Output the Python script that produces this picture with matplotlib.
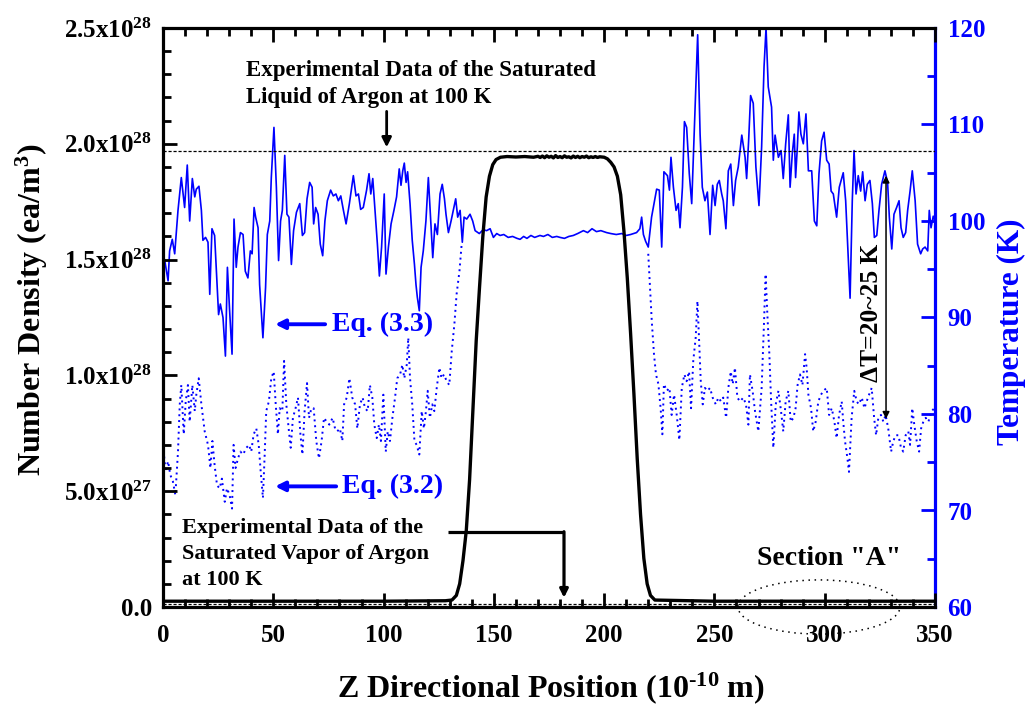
import matplotlib
matplotlib.use("Agg")
import matplotlib.pyplot as plt
from matplotlib.patches import Ellipse
from matplotlib.ticker import MultipleLocator, FixedLocator, FixedFormatter
import numpy as np

plt.rcParams['font.family'] = ['Liberation Serif', 'DejaVu Serif']
plt.rcParams['font.weight'] = 'bold'
plt.rcParams['mathtext.fontset'] = 'custom'
plt.rcParams['mathtext.rm'] = 'Liberation Serif:bold'
plt.rcParams['mathtext.bf'] = 'Liberation Serif:bold'
plt.rcParams['mathtext.it'] = 'Liberation Serif:bold:italic'

# ---- number density profile (x1e28 ea/m^3) ----
z_density = [0, 50, 100, 128, 131, 133, 134.5, 136, 137.5, 139, 140.5, 142, 143.5,
             145, 146.5, 148, 149.5, 151, 153, 156, 160, 164, 168, 170, 171, 172,
             173, 174, 175, 176, 177, 178, 179, 180, 181, 182, 183, 184, 185, 186,
             187, 188, 189, 190, 191, 192, 193, 194, 195, 196, 197, 198, 200, 201.5,
             203, 204.5, 206, 207.5, 209, 210.5, 212, 213.5, 215, 216.5, 218, 219.5,
             221, 223, 250, 300, 350]
density = [0.025, 0.025, 0.025, 0.027, 0.03, 0.05, 0.1, 0.2, 0.33, 0.55, 0.85, 1.15, 1.38,
           1.6, 1.77, 1.86, 1.91, 1.932, 1.942, 1.945, 1.943, 1.945, 1.942, 1.946, 1.941, 1.947,
           1.94, 1.948, 1.942, 1.946, 1.939, 1.949, 1.941, 1.945, 1.94, 1.948, 1.942, 1.944,
           1.939, 1.947, 1.941, 1.946, 1.94, 1.945, 1.942, 1.947, 1.94, 1.944, 1.941, 1.945,
           1.941, 1.944, 1.942, 1.935, 1.92, 1.9, 1.86, 1.78, 1.62, 1.42, 1.18, 0.92, 0.64,
           0.40, 0.21, 0.10, 0.05, 0.03, 0.025, 0.025, 0.025]

# experimental saturated densities of argon at 100 K (x1e28 ea/m^3)
liquid_exp = 1.97
vapor_exp = 0.015

# ---- temperature from Eq. (3.3) (K) ----
z_eq33 = [0, 0.8, 2.3, 3.0, 4.2, 5.3, 6.8, 8.3, 9.8, 11.0, 12.1, 13.3, 14.4, 15.1, 16.3,
          17.4, 18.1, 19.3, 20.4, 21.2, 22.2, 23.4, 24.2, 25.2, 26.0, 27.2, 28.3, 29.2,
          30.2, 31.3, 32.2, 33.2, 34.0, 35.1, 36.3, 37.3, 38.5, 39.6, 40.4, 41.3, 42.0,
          43.1, 43.8, 45.3, 46.5, 47.3, 48.4, 49.1, 50.3, 51.4, 52.4, 53.3, 54.1, 55.2,
          56.2, 57.1, 58.2, 59.2, 60.5, 62.0, 63.2, 64.2, 65.3, 66.5, 67.6, 68.3, 69.2,
          70.3, 71.3, 72.4, 73.4, 74.5, 76.0, 77.2, 78.4, 79.5, 80.6, 81.8, 83.0, 84.5,
          86.3, 87.5, 88.6, 89.6, 90.8, 92.3, 93.4, 94.2, 95.1, 96.1, 97.2, 98.1, 99.1,
          100.3, 101.1, 102.2, 103.4, 104.7, 105.9, 107.1, 107.9, 108.7, 109.4, 110.2,
          110.9, 112.0, 113.0, 114.0, 114.7, 115.3, 116.2, 117.0, 118.0, 119.2, 120.3,
          121.4, 122.3, 123.3, 124.4, 125.6, 126.6, 127.6, 128.3, 129.4, 130.6, 131.6,
          132.7, 133.6, 134.7, 135.7, 136.5, 137.7, 139.2, 140.4, 141.5, 143.4, 145.2,
          146.7, 148.3, 149.8, 151.3, 152.8, 154.5, 156.5, 158.5, 160.5, 161.9, 163.5,
          165.0, 166.8, 168.5, 170.9, 172.5, 174.5, 176.5, 178.5, 180.0, 182.0, 184.0,
          186.0, 188.0, 190.6, 192.5, 194.5, 196.5, 198.5, 201.1, 203.0, 205.5, 208.0,
          210.0, 212.0, 214.7, 216.2, 217.0, 217.8, 218.8, 220.0, 221.5, 223.8, 225.0,
          226.1, 227.1, 228.7, 229.6, 230.3, 231.4, 232.6, 233.6, 234.4, 235.5, 236.4,
          237.4, 238.6, 239.7, 241.2, 242.4, 243.5, 244.5, 245.7, 246.8, 248.0, 249.2,
          250.3, 251.3, 252.2, 253.3, 254.0, 255.2, 256.3, 257.4, 258.6, 259.6, 260.8,
          262.4, 263.9, 264.6, 265.5, 266.4, 267.6, 268.8, 270.2, 271.4, 272.5, 273.4,
          274.4, 275.9, 276.7, 277.5, 279.0, 280.2, 281.2, 282.3, 283.5, 284.3, 285.3,
          286.2, 286.8, 287.6, 288.3, 289.2, 290.3, 291.5, 292.6, 294.1, 295.3, 296.4,
          297.4, 298.6, 299.7, 300.9, 302.0, 302.9, 303.9, 305.4, 306.6, 308.4, 309.5,
          310.4, 311.5, 312.5, 313.3, 314.2, 315.2, 316.3, 317.2, 318.3, 319.3, 320.5,
          321.6, 322.5, 323.6, 324.6, 325.8, 327.3, 328.5, 329.3, 330.4, 331.4, 332.6,
          333.7, 334.6, 335.6, 336.7, 337.6, 338.7, 339.7, 341.0, 342.1, 343.5, 344.4,
          345.5, 346.7, 347.4, 348.2, 349.2, 350.0]
temp_eq33 = [96.5, 95.9, 93.8, 96.9, 98.1, 96.6, 101.1, 104.5, 101.4, 105.8, 100.0, 104.4,
             102.5, 103.3, 103.6, 101.1, 98.0, 98.3, 97.8, 92.4, 99.2, 98.5, 94.8, 90.3,
             91.4, 90.0, 86.0, 95.2, 90.7, 86.2, 100.2, 95.2, 97.3, 98.8, 98.6, 94.8, 94.1,
             96.9, 96.6, 101.4, 100.4, 99.3, 93.4, 87.9, 93.1, 98.6, 100.0, 104.5, 109.7,
             103.5, 95.9, 100.0, 101.1, 106.8, 100.7, 100.4, 95.5, 99.0, 100.9, 101.8, 98.5,
             98.8, 102.3, 104.0, 103.5, 99.7, 101.4, 100.7, 97.6, 96.4, 100.0, 102.1, 103.2,
             102.6, 102.8, 102.1, 102.6, 101.1, 99.7, 101.8, 104.7, 102.6, 102.8, 101.2,
             101.4, 103.2, 104.9, 102.8, 104.4, 101.2, 97.6, 94.3, 97.3, 102.8, 94.5, 97.3,
             99.7, 101.1, 102.5, 105.4, 103.7, 105.2, 106.0, 104.0, 105.1, 101.8, 98.0, 95.5,
             93.4, 92.1, 90.7, 95.2, 96.9, 100.0, 104.5, 100.0, 96.2, 99.7, 98.6, 102.8,
             103.8, 102.3, 100.7, 98.8, 100.0, 101.1, 102.3, 100.4, 101.1, 97.8, 100.4, 100.2,
             100.7, 100.0, 99.0, 98.7, 99.1, 99.0, 99.2, 98.3, 98.7, 98.5, 98.6, 98.3, 98.4,
             98.2, 98.1, 98.4, 98.2, 98.5, 98.3, 98.5, 98.4, 98.6, 98.3, 98.4, 98.3, 98.2,
             98.4, 98.5, 98.7, 99.0, 98.8, 99.2, 98.9, 99.0, 98.8, 98.7, 98.6, 98.7, 98.5,
             98.6, 98.8, 99.2, 100.4, 98.6, 97.9, 97.3, 100.4, 103.3, 103.2, 97.3, 105.1,
             104.7, 103.2, 106.6, 103.5, 101.1, 101.8, 99.3, 103.5, 110.3, 109.7, 104.9,
             101.8, 111.5, 119.3, 109.0, 103.5, 102.1, 103.0, 98.6, 103.7, 101.6, 103.8,
             104.2, 102.8, 102.1, 99.2, 105.2, 105.9, 101.6, 104.2, 105.6, 108.9, 106.6,
             104.4, 108.3, 113.0, 112.2, 105.6, 101.6, 107.7, 116.0, 120.0, 113.9, 111.8,
             106.3, 108.9, 106.6, 107.3, 104.4, 108.0, 111.0, 103.5, 107.0, 109.0, 104.5,
             107.7, 111.3, 109.0, 108.0, 111.1, 105.2, 105.2, 100.0, 99.5, 104.9, 108.3,
             109.2, 106.3, 105.9, 103.1, 102.8, 100.4, 103.5, 105.0, 102.1, 97.6, 92.0, 102.1,
             107.3, 102.8, 104.7, 103.1, 105.1, 102.1, 103.8, 104.2, 101.8, 98.3, 98.5, 101.1,
             103.8, 105.2, 104.0, 100.4, 97.1, 100.7, 101.4, 102.1, 99.3, 98.3, 98.8, 101.1,
             103.1, 105.2, 102.1, 97.6, 96.6, 97.1, 97.3, 96.9, 101.1, 99.3, 100.5, 100.0]

# ---- temperature from Eq. (3.2) (K), vapor regions ----
z_eq32_left = [0, 1.2, 2.3, 3.3, 4.5, 5.6, 6.8, 7.6, 8.3, 9.4, 10.3, 11.3, 12.1, 13.3, 14.4,
               15.1, 16.2, 17.4, 18.9, 20.4, 21.5, 22.4, 23.4, 24.5, 25.7, 26.7, 28.0, 29.0,
               30.2, 31.3, 32.0, 32.9, 34.0, 35.1, 36.3, 37.8, 39.0, 40.0, 41.1, 42.3, 43.4,
               44.3, 45.3, 46.1, 46.8, 48.0, 49.1, 50.2, 51.1, 52.1, 52.9, 54.1, 54.9, 55.9,
               57.1, 57.9, 58.9, 60.1, 61.2, 62.3, 63.2, 64.2, 65.3, 66.2, 67.3, 68.3, 69.5,
               70.7, 71.9, 73.0, 74.2, 75.4, 76.9, 78.0, 79.0, 80.2, 81.3, 82.1, 83.3, 84.5,
               85.8, 87.1, 88.1, 89.3, 90.5, 91.6, 92.8, 93.8, 94.9, 95.8, 96.9, 97.9, 98.8,
               99.9, 101.0, 101.9, 102.9, 104.0, 105.2, 106.2, 107.5, 108.5, 109.4, 110.5,
               111.2, 112.0, 113.0, 114.0, 115.0, 116.2, 117.3, 118.3, 119.2, 120.0, 121.0,
               122.1, 123.0, 124.1, 125.3, 126.3, 127.4, 128.6, 129.8, 130.9, 132.1, 133.1,
               134.4, 135.4]
temp_eq32_left = [76.8, 74.0, 75.1, 73.7, 73.0, 71.6, 76.1, 81.0, 83.0, 77.9, 81.3, 83.0,
                  79.2, 83.0, 80.3, 82.0, 83.7, 81.0, 78.2, 76.8, 74.4, 77.2, 74.7, 72.6,
                  72.3, 73.3, 70.9, 72.3, 71.6, 70.2, 76.8, 74.4, 75.4, 76.1, 75.8, 76.5,
                  76.8, 76.1, 77.9, 78.5, 76.8, 74.0, 71.3, 75.8, 80.3, 81.3, 83.7, 84.4,
                  81.0, 77.9, 80.6, 80.3, 85.5, 81.0, 78.2, 76.5, 79.6, 80.6, 81.7, 77.9,
                  75.8, 80.3, 83.2, 79.6, 80.6, 80.6, 77.2, 75.4, 77.2, 79.6, 79.2, 78.9,
                  79.6, 78.5, 78.2, 78.5, 77.2, 81.0, 81.7, 83.7, 81.7, 81.0, 78.5, 81.0,
                  81.7, 80.6, 80.3, 83.0, 81.7, 78.9, 77.5, 78.9, 77.2, 82.0, 76.1, 78.2,
                  77.2, 79.6, 81.7, 83.7, 84.1, 85.1, 83.7, 85.1, 87.9, 83.7, 81.0, 77.2,
                  76.8, 75.8, 80.3, 78.5, 80.3, 82.4, 79.6, 81.0, 80.3, 82.7, 84.8, 83.7,
                  84.1, 83.4, 83.0, 86.5, 89.3, 92.4, 94.8, 97.6]

z_eq32_right = [220.0, 220.8, 221.6, 222.6, 223.5, 224.6, 225.6, 226.4, 227.1, 228.4, 229.6,
                230.6, 231.7, 232.9, 234.1, 235.2, 236.4, 237.4, 238.5, 239.4, 240.4, 241.5,
                242.3, 243.0, 243.8, 244.7, 245.7, 246.8, 248.0, 249.2, 250.6, 251.8, 253.0,
                254.0, 255.3, 256.3, 257.4, 258.3, 259.3, 260.4, 261.6, 263.1, 264.3, 265.4,
                266.1, 267.3, 268.4, 269.9, 271.4, 272.5, 273.2, 274.0, 274.9, 275.7, 276.7,
                277.8, 279.0, 280.2, 281.2, 282.3, 283.5, 284.6, 285.8, 286.8, 287.7, 288.8,
                289.9, 291.1, 291.8, 292.6, 293.8, 294.8, 295.9, 297.1, 298.3, 299.4, 300.9,
                302.0, 303.2, 304.4, 305.4, 306.5, 307.7, 308.4, 309.2, 310.3, 311.0, 312.2,
                313.4, 314.5, 315.5, 316.8, 318.0, 319.0, 320.1, 321.3, 322.4, 323.3, 324.3,
                325.5, 326.6, 327.6, 328.8, 330.1, 331.1, 332.2, 333.4, 334.6, 335.6, 336.7,
                337.9, 338.7, 339.7, 340.6, 341.7, 342.8, 343.7, 344.7, 345.8, 347.0, 348.5,
                349.7]
temp_eq32_right = [96.6, 93.1, 89.6, 86.2, 84.1, 83.1, 80.6, 77.9, 83.1, 82.4, 82.7, 79.9,
                   82.0, 79.9, 77.3, 82.7, 84.1, 83.4, 84.4, 80.6, 85.5, 87.9, 91.7, 87.9,
                   83.4, 81.0, 82.7, 82.4, 82.7, 81.7, 81.0, 81.7, 81.3, 81.7, 79.6, 82.7,
                   84.4, 83.1, 84.8, 81.7, 81.3, 81.7, 81.0, 78.9, 84.1, 82.4, 80.3, 78.2,
                   82.7, 89.6, 94.5, 90.3, 86.2, 81.3, 76.5, 81.0, 82.4, 80.3, 78.2, 81.3,
                   82.4, 79.2, 79.6, 80.6, 83.0, 84.1, 83.0, 86.2, 84.8, 82.0, 80.6, 78.2,
                   79.2, 81.3, 82.0, 82.4, 82.7, 79.9, 80.6, 79.2, 77.5, 79.9, 81.3, 79.2,
                   77.2, 75.4, 74.0, 79.6, 82.4, 81.3, 81.0, 81.7, 80.6, 81.3, 82.0, 82.7,
                   79.6, 77.8, 79.6, 79.9, 79.2, 79.9, 78.5, 76.1, 77.2, 77.8, 77.8, 76.5,
                   76.1, 77.8, 78.2, 76.8, 80.6, 78.9, 77.2, 76.1, 78.5, 79.2, 79.6, 79.2,
                   80.3, 80.6]

# tick labels
x_ticks = [0, 50, 100, 150, 200, 250, 300, 350]
dens_ticks = [0.0, 0.5e28, 1.0e28, 1.5e28, 2.0e28, 2.5e28]
dens_tick_labels = ['0.0', '5.0x10$^{27}$', '1.0x10$^{28}$', '1.5x10$^{28}$',
                    '2.0x10$^{28}$', '2.5x10$^{28}$']
temp_ticks = [60, 70, 80, 90, 100, 110, 120]

BLUE = '#0000ff'
W, H = 1031, 704
fig = plt.figure(figsize=(W / 100, H / 100), dpi=100)
L, R, T, B = 163, 935, 28, 607
ax = fig.add_axes([L / W, 1 - B / H, (R - L) / W, (B - T) / H])
ax2 = ax.twinx()
ax.set_zorder(ax2.get_zorder() + 1)
ax.patch.set_visible(False)

ax.set_xlim(0, 350)
ax.set_ylim(0, 2.5e28)
ax2.set_ylim(60, 120)

# temperature curves
ax2.plot(z_eq32_left, temp_eq32_left, color=BLUE, lw=1.4, ls=(0, (1, 2)))
ax2.plot(z_eq32_right, temp_eq32_right, color=BLUE, lw=1.4, ls=(0, (1, 2)))
ax2.plot(z_eq33, temp_eq33, color=BLUE, lw=1.2)

# reference densities and density profile
ax.axhline(liquid_exp * 1e28, color='k', lw=0.9, ls=(0, (2.5, 1.5)))
ax.axhline(vapor_exp * 1e28, color='k', lw=0.9, ls=(0, (2.5, 1.5)))
ax.plot(z_density, np.array(density) * 1e28, color='k', lw=2.4)

# axes styling
for s in ['left', 'top', 'bottom']:
    ax.spines[s].set_linewidth(2.3)
ax.spines['right'].set_visible(False)
ax2.spines['right'].set_color(BLUE)
ax2.spines['right'].set_linewidth(2.3)

ax.xaxis.set_major_locator(FixedLocator(x_ticks))
ax.xaxis.set_minor_locator(MultipleLocator(10))
ax.yaxis.set_major_locator(FixedLocator(dens_ticks))
ax.yaxis.set_major_formatter(FixedFormatter(dens_tick_labels))
ax.yaxis.set_minor_locator(MultipleLocator(0.1e28))
ax.tick_params(axis='both', which='both', direction='in', top=True, width=2)
ax.tick_params(axis='both', which='major', length=10, labelsize=18)
ax.tick_params(axis='both', which='minor', length=5.5)
ax.tick_params(axis='x', which='major', pad=12)
ax.tick_params(axis='y', which='major', pad=8)

ax2.yaxis.set_major_locator(FixedLocator(temp_ticks))
ax2.yaxis.set_minor_locator(MultipleLocator(5))
ax2.tick_params(axis='y', which='both', direction='in', color=BLUE, labelcolor=BLUE, width=2)
ax2.tick_params(axis='y', which='major', length=10, labelsize=18, pad=9)
ax2.tick_params(axis='y', which='minor', length=5.5)

# axis titles
fig.text(551 / W, 1 - 688 / H, 'Z Directional Position (10$^{\u2010 10}$ m)', ha='center',
         va='center', fontsize=23, fontweight='bold')
fig.text(32 / W, 1 - 310 / H, 'Number Density (ea/m$^3$)', ha='center', va='center',
         rotation=90, fontsize=23, fontweight='bold')
fig.text(1011 / W, 1 - 332 / H, 'Temperature (K)', ha='center', va='center',
         rotation=90, fontsize=22.5, fontweight='bold', color=BLUE)

# annotations
ax.text(37.5, 2.257e28, 'Experimental Data of the Saturated\nLiquid of Argon at 100 K',
        ha='left', va='center', fontsize=16.5, fontweight='bold', linespacing=1.4)
ax.annotate('', xy=(101.4, 1.985e28), xytext=(101.4, 2.14e28),
            arrowprops=dict(arrowstyle='-|>', color='k', lw=2, mutation_scale=14,
                            shrinkA=0, shrinkB=0))

ax.text(8.5, 0.228e28, 'Experimental Data of the\nSaturated Vapor of Argon\nat 100 K',
        ha='left', va='center', fontsize=16, fontweight='bold', linespacing=1.4)
ax.plot([129.2, 181.8], [0.325e28, 0.325e28], color='k', lw=2.3, solid_capstyle='butt')
ax.annotate('', xy=(181.8, 0.04e28), xytext=(181.8, 0.325e28),
            arrowprops=dict(arrowstyle='-|>', color='k', lw=2.3, mutation_scale=12,
                            shrinkA=0, shrinkB=0))

ax2.annotate('', xy=(50.8, 89.3), xytext=(73.5, 89.3),
             arrowprops=dict(arrowstyle='-|>', color=BLUE, lw=2.8, mutation_scale=14,
                             shrinkA=0, shrinkB=0))
ax2.text(76.5, 89.3, 'Eq. (3.3)', ha='left', va='center', fontsize=20,
         fontweight='bold', color=BLUE)
ax2.annotate('', xy=(50.8, 72.5), xytext=(78.5, 72.5),
             arrowprops=dict(arrowstyle='-|>', color=BLUE, lw=2.8, mutation_scale=14,
                             shrinkA=0, shrinkB=0))
ax2.text(81.2, 72.5, 'Eq. (3.2)', ha='left', va='center', fontsize=20,
         fontweight='bold', color=BLUE)

ax2.annotate('', xy=(327.8, 79.5), xytext=(327.8, 104.7),
             arrowprops=dict(arrowstyle='<|-|>', color='k', lw=1.1, mutation_scale=10,
                             shrinkA=0, shrinkB=0))
ax2.text(321.0, 90.5, '\u0394T=20~25 K', ha='center', va='center', rotation=90,
         fontsize=18.4, fontweight='bold')

ax.text(301.8, 0.21e28, 'Section "A"', ha='center', va='center', fontsize=20,
        fontweight='bold')
ax.add_patch(Ellipse((297.4, 0.0), 73.4, 0.234e28, fill=False, ec='k', lw=1.1,
                     ls=(0, (1, 3)), clip_on=False))

fig.savefig('out.png', dpi=100)
